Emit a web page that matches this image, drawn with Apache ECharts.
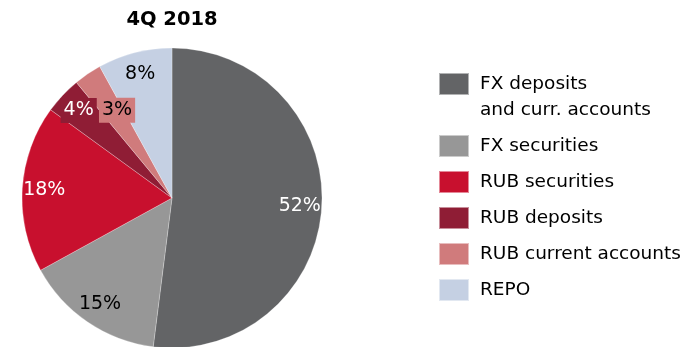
<!DOCTYPE html>
<html>
<head>
<meta charset="utf-8">
<script src="https://cdn.jsdelivr.net/npm/echarts@6/dist/echarts.min.js"></script>
<style>
  html, body { margin: 0; padding: 0; background: #fff; }
  #chart { width: 687px; height: 347px; }
</style>
</head>
<body>
<div id="chart"></div>
<script>
const title = "4Q 2018";
const categories = [
  "FX deposits\nand curr. accounts",
  "FX securities",
  "RUB securities",
  "RUB deposits",
  "RUB current accounts",
  "REPO"
];
const shares = [52, 15, 18, 4, 3, 8];
const colors = ["#636466", "#979797", "#c8102e", "#8f1d35", "#d07b7c", "#c5d0e3"];
const labelColors = ["#fff", "#000", "#fff", "#fff", "#000", "#000"];

const font = "DejaVu Sans";

const pieData = categories.map((name, i) => ({
  name: name,
  value: shares[i],
  itemStyle: { color: colors[i] }
}));

// transparent ring on top, only used to place the % labels near the rim
const labelData = categories.map((name, i) => {
  const item = {
    name: name,
    value: shares[i],
    itemStyle: { color: "rgba(0,0,0,0)" },
    label: { color: labelColors[i] }
  };
  if (i === 3 || i === 4) {
    item.label.backgroundColor = colors[i];
    item.label.padding = [2, 3];
  }
  if (i === 4) item.label.offset = [17, 18];
  return item;
});

const chart = echarts.init(document.getElementById("chart"));
chart.setOption({
  animation: false,
  title: {
    text: title,
    left: 172,
    textAlign: "center",
    top: 10,
    padding: 0,
    textStyle: { fontFamily: font, fontSize: 19.5, fontWeight: "bold", color: "#000" }
  },
  legend: {
    orient: "vertical",
    left: 438,
    top: 45,
    padding: 0,
    itemWidth: 30,
    itemHeight: 22,
    itemGap: 10,
    icon: "rect",
    selectedMode: false,
    data: categories,
    // first entry wraps: an empty leading line keeps its first line level with the swatch
    formatter: (name) => (name === categories[0] ? " \n" + name : name),
    textStyle: {
      fontFamily: font,
      fontSize: 18.5,
      color: "#000",
      lineHeight: 26,
      padding: [0, 0, 0, 6]
    }
  },
  series: [
    {
      type: "pie",
      center: [172, 198],
      radius: [0, 150],
      startAngle: 90,
      clockwise: true,
      silent: true,
      label: { show: false },
      labelLine: { show: false },
      itemStyle: { borderColor: "rgba(255,255,255,0.5)", borderWidth: 0.5 },
      data: pieData
    },
    {
      type: "pie",
      center: [172, 198],
      radius: [100, 150],
      startAngle: 90,
      clockwise: true,
      silent: true,
      legendHoverLink: false,
      label: {
        show: true,
        position: "inside",
        formatter: "{c}%",
        fontFamily: font,
        fontSize: 19,
        lineHeight: 21
      },
      labelLine: { show: false },
      data: labelData
    }
  ]
});
</script>
</body>
</html>
